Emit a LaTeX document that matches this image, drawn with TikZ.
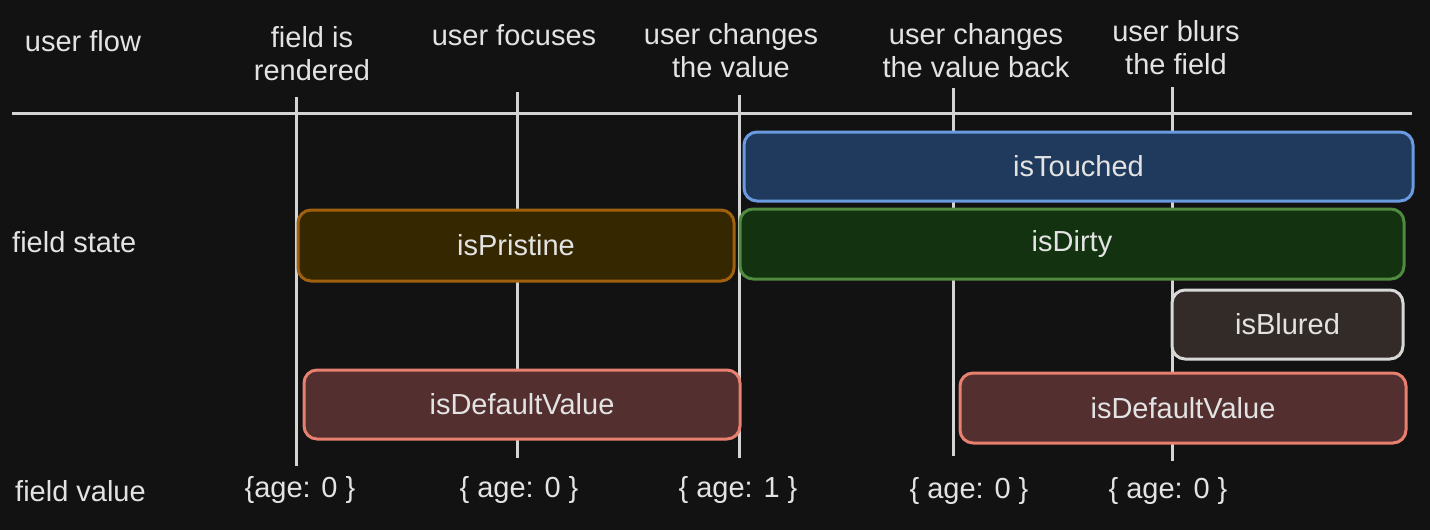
\documentclass[tikz,border=0pt]{standalone}
\usepackage{fontspec}
\setmainfont{Liberation Sans}
\begin{document}
\begin{tikzpicture}[x=1pt,y=-1pt,
  txt/.style={text=txtc, font=\fontsize{29}{33}\selectfont, align=center, inner sep=0pt},
  axis/.style={draw=linec, line width=3pt},
  box/.style={draw, line width=3pt, rounded corners=13pt, text=txtc, font=\fontsize{29}{33}\selectfont, inner sep=0pt},
]
\definecolor{bg}{HTML}{121212}
\definecolor{txtc}{HTML}{E3E3E3}
\definecolor{linec}{HTML}{D4D4D4}
\definecolor{tfill}{HTML}{1F3A5C}\definecolor{tdraw}{HTML}{6A9BE0}
\definecolor{dfill}{HTML}{133210}\definecolor{ddraw}{HTML}{4F8A40}
\definecolor{pfill}{HTML}{352800}\definecolor{pdraw}{HTML}{A0600D}
\definecolor{bfill}{HTML}{322B28}\definecolor{bdraw}{HTML}{D8D8D8}
\definecolor{vfill}{HTML}{532F2F}\definecolor{vdraw}{HTML}{E8806F}
\fill[bg] (0,0) rectangle (1430,530);
\useasboundingbox (0,0) rectangle (1430,530);

% timeline
\coordinate (h1) at (12,113);
\coordinate (h2) at (1412,113);
\draw[axis] (h1) -- (h2);
\coordinate (v1t) at (296,97);  \coordinate (v1b) at (296,466);
\coordinate (v2t) at (517,92);  \coordinate (v2b) at (517,458);
\coordinate (v3t) at (739,95);  \coordinate (v3b) at (739,458);
\coordinate (v4t) at (953,88);  \coordinate (v4b) at (953,456);
\coordinate (v5t) at (1172,87); \coordinate (v5b) at (1172,461);
\foreach \i in {1,...,5} \draw[axis] (v\i t) -- (v\i b);

% header labels
\node[txt] (uf) at (83,41) {user flow};
\node[txt] (e1) at (312,54) {field is\\rendered};
\node[txt] (e2) at (514,35) {user focuses};
\node[txt] (e3) at (731,51) {user changes\\the value};
\node[txt] (e4) at (976,51) {user changes\\the value back};
\node[txt] (e5) at (1176,48) {user blurs\\the field};

% row labels
\node[txt, anchor=west] (fs) at (12,242) {field state};
\node[txt, anchor=west] (fv) at (15,491) {field value};

% boxes
\node[box, fill=tfill, draw=tdraw, minimum width=669pt, minimum height=69pt] (touched) at (1078.5,166.5) {isTouched};
\node[box, fill=dfill, draw=ddraw, minimum width=664pt, minimum height=70pt] (dirty) at (1072,244) {isDirty};
\node[box, fill=pfill, draw=pdraw, minimum width=436pt, minimum height=71pt] (pristine) at (516,245.5) {isPristine};
\node[box, fill=bfill, draw=bdraw, minimum width=231pt, minimum height=69pt] (blured) at (1287.5,324.5) {isBlured};
\node[box, fill=vfill, draw=vdraw, minimum width=436pt, minimum height=69pt] (dv1) at (522,404.5) {isDefaultValue};
\node[box, fill=vfill, draw=vdraw, minimum width=446pt, minimum height=70pt] (dv2) at (1183,408) {isDefaultValue};

% values
\node[txt] (a1) at (300,490) {\{age: 0 \}};
\node[txt] (a2) at (519,490) {\{ age: 0 \}};
\node[txt] (a3) at (738,490) {\{ age: 1 \}};
\node[txt] (a4) at (969,491) {\{ age: 0 \}};
\node[txt] (a5) at (1168,491) {\{ age: 0 \}};
\end{tikzpicture}
\end{document}
